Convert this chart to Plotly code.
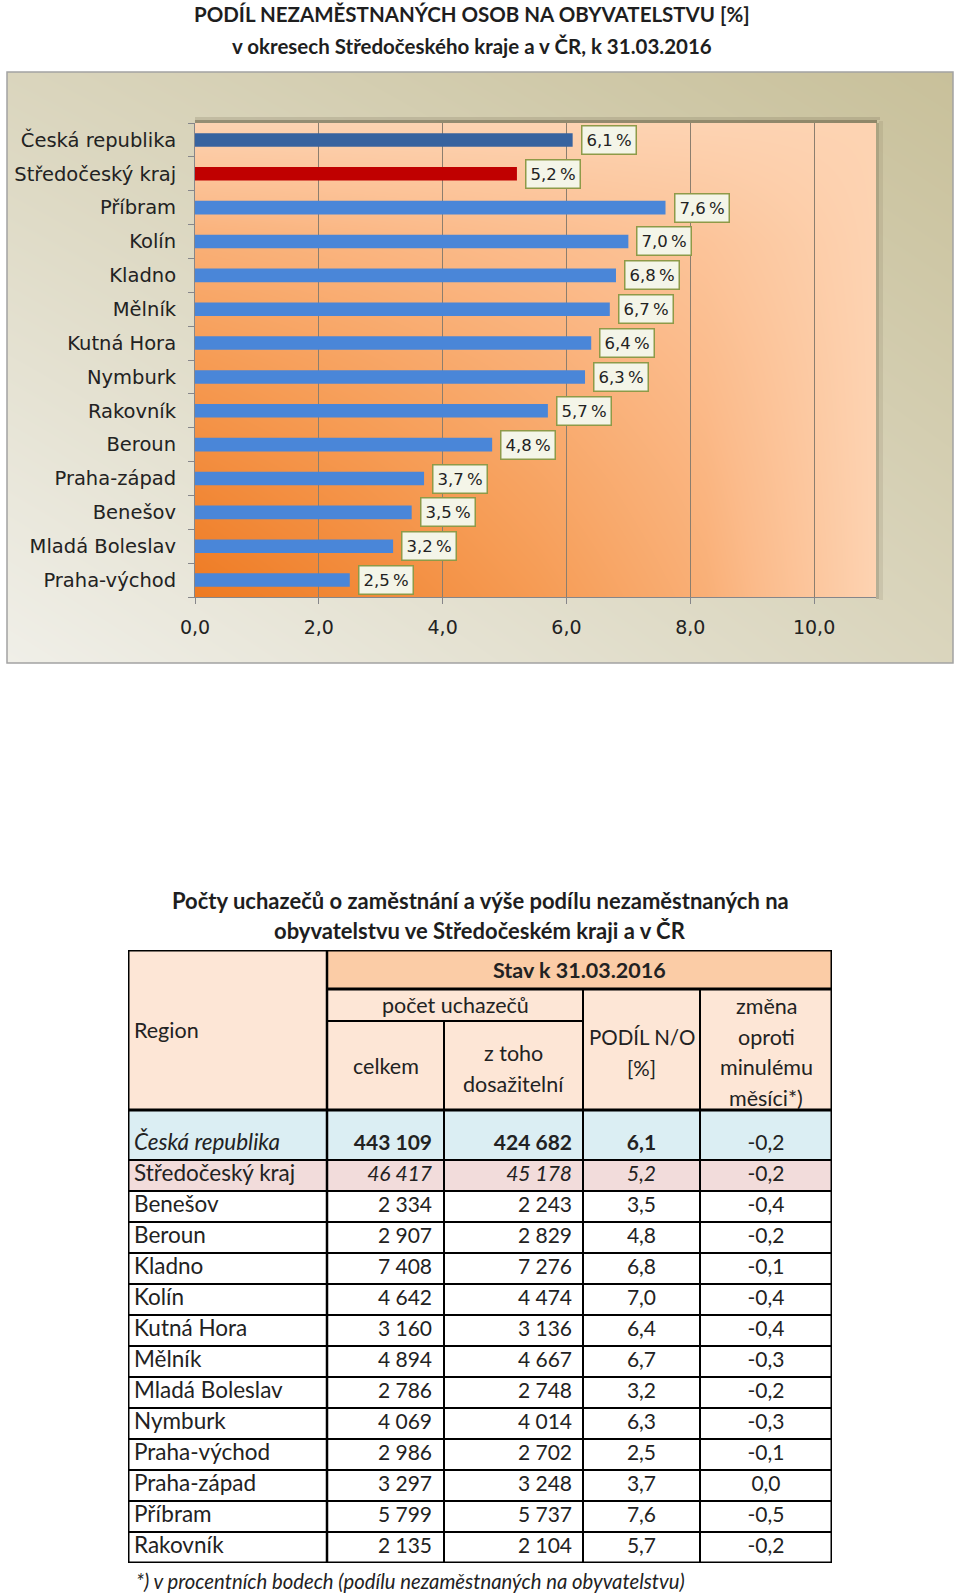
import plotly.graph_objects as go

W, H = 960, 1594

# ---------------- data ----------------
regions = ["Česká republika", "Středočeský kraj", "Benešov", "Beroun", "Kladno", "Kolín",
           "Kutná Hora", "Mělník", "Mladá Boleslav", "Nymburk", "Praha-východ",
           "Praha-západ", "Příbram", "Rakovník"]
celkem = [443109, 46417, 2334, 2907, 7408, 4642, 3160, 4894, 2786, 4069, 2986, 3297, 5799, 2135]
dosazitelni = [424682, 45178, 2243, 2829, 7276, 4474, 3136, 4667, 2748, 4014, 2702, 3248, 5737, 2104]
podil = [6.1, 5.2, 3.5, 4.8, 6.8, 7.0, 6.4, 6.7, 3.2, 6.3, 2.5, 3.7, 7.6, 5.7]
zmena = [-0.2, -0.2, -0.4, -0.2, -0.1, -0.4, -0.4, -0.3, -0.2, -0.3, -0.1, 0.0, -0.5, -0.2]
x_ticks = [0, 2, 4, 6, 8, 10]

chart_title = ["PODÍL NEZAMĚSTNANÝCH OSOB NA OBYVATELSTVU [%]",
               "v okresech Středočeského kraje a v ČR, k 31.03.2016"]
table_title = ["Počty uchazečů o zaměstnání a výše podílu nezaměstnaných na",
               "obyvatelstvu ve Středočeském kraji a v ČR"]
footnote = "*) v procentních bodech (podílu nezaměstnaných na obyvatelstvu)"

# chart order: ČR, kraj, then districts sorted by share (descending)
districts = sorted(range(2, len(regions)), key=lambda i: -podil[i])
chart_idx = [0, 1] + districts
chart_cats = [regions[i] for i in chart_idx]
chart_vals = [podil[i] for i in chart_idx]

# ---------------- helpers ----------------
def px(x):
    return x / W

def py(y):
    return 1 - y / H

def fdec(v):
    return f"{v:.1f}".replace(".", ",")

def fint(n):
    return f"{n:,}".replace(",", "\u00a0")

CHART_FONT = "DejaVu Sans, Verdana, sans-serif"
CAL_FONT = "Lato, Carlito, Calibri, sans-serif"
TXT = "#222222"
TFS = 21.5   # table header text size
RFS = 22.5   # region column size
NFS = 21     # table number size

# layout geometry (pixels)
OUTER = (7, 72, 953, 663)       # chart area
PLOT = (195, 123, 876, 597)      # plot area
TBL_X = [128, 327, 444, 583, 700, 832]
TBL_TOP, STAV_B, POCET_B, HEAD_B, FIRST_B, ROW_H = 950, 989, 1021, 1110, 1160, 31.0
TBL_BOT = FIRST_B + ROW_H * (len(regions) - 1)

fig = go.Figure()

# --- outer chart-area gradient (subplot 1)
fig.add_trace(go.Heatmap(
    x=[0, 1], y=[0, 1], z=[[0.0, 0.55], [0.55, 1.0]],
    colorscale=[[0, "#f0efe8"], [1, "#c8c09a"]], zsmooth="best",
    showscale=False, hoverinfo="skip", xaxis="x", yaxis="y"))

# --- plot-area orange gradient (subplot 2)
gx = [0, 0.25, 0.5, 0.75, 1.0]
gy = [0, 0.25, 0.5, 0.75, 1.0]
gz = [[((1 - a) * (1 - b)) ** 0.6 for a in gx] for b in gy]
fig.add_trace(go.Heatmap(
    x=gx, y=gy, z=gz,
    colorscale=[[0, "#fdd3b2"], [0.3, "#fbbb8b"], [0.65, "#f69c55"], [1, "#ee7a22"]],
    zsmooth="best", showscale=False, hoverinfo="skip", xaxis="x2", yaxis="y2"))

# --- bars (subplot 3)
bar_colors = ["#38639f", "#c00000"] + ["#4a86d8"] * (len(chart_vals) - 2)
fig.add_trace(go.Bar(
    x=chart_vals, y=list(range(len(chart_vals))), orientation="h", width=0.4,
    marker=dict(color=bar_colors, line=dict(width=0)),
    hoverinfo="skip", xaxis="x3", yaxis="y3"))

annotations = []
for i, v in enumerate(chart_vals):
    annotations.append(dict(
        x=v, y=i, xref="x3", yref="y3", text=fdec(v) + "\u2009%", showarrow=False,
        xanchor="left", yanchor="middle", xshift=8,
        bgcolor="#f4f5e8", bordercolor="#8e9a48", borderwidth=1.5, borderpad=4,
        font=dict(family=CHART_FONT, size=16.5, color=TXT)))

# chart titles
for k, t in enumerate(chart_title):
    annotations.append(dict(
        x=px(472), y=py(14 + 31.5 * k), xref="paper", yref="paper", text=f"<b>{t}</b>",
        showarrow=False, xanchor="center", yanchor="middle",
        font=dict(family=CAL_FONT, size=20.5, color="#1e1e1e")))

# --- table (subplot 4)
row_edges = [HEAD_B, FIRST_B] + [FIRST_B + ROW_H * k for k in range(1, len(regions))]
row_centers = [b - ROW_H / 2 for b in row_edges[1:]]

shapes = []
def rect(x0, y0, x1, y1, fill):
    shapes.append(dict(type="rect", xref="x4", yref="y4", x0=x0, y0=y0, x1=x1, y1=y1,
                       fillcolor=fill, line=dict(width=0), layer="below"))

def hline(y, x0, x1, w):
    shapes.append(dict(type="line", xref="x4", yref="y4", x0=x0, x1=x1, y0=y, y1=y,
                       line=dict(color="#000000", width=w), layer="below"))

def vline(x, y0, y1, w):
    shapes.append(dict(type="line", xref="x4", yref="y4", x0=x, x1=x, y0=y0, y1=y1,
                       line=dict(color="#000000", width=w), layer="below"))

rect(TBL_X[0], TBL_TOP, TBL_X[1], HEAD_B, "#fde6d6")
rect(TBL_X[1], TBL_TOP, TBL_X[5], STAV_B, "#fbcca6")
rect(TBL_X[1], STAV_B, TBL_X[5], HEAD_B, "#fde6d6")
row_fills = ["#dbeef3", "#f2dcdb"] + ["#ffffff"] * (len(regions) - 2)
for r, f in enumerate(row_fills):
    rect(TBL_X[0], row_edges[r], TBL_X[5], row_edges[r + 1], f)

for y in row_edges[1:-1]:
    hline(y, TBL_X[0], TBL_X[5], 2)
hline(STAV_B, TBL_X[1], TBL_X[5], 3)
hline(POCET_B, TBL_X[1], TBL_X[3], 2)
hline(HEAD_B, TBL_X[0], TBL_X[5], 3)
vline(TBL_X[1], TBL_TOP, TBL_BOT, 2.5)
vline(TBL_X[2], POCET_B, TBL_BOT, 2)
vline(TBL_X[3], STAV_B, TBL_BOT, 2)
vline(TBL_X[4], STAV_B, TBL_BOT, 2)
shapes.append(dict(type="rect", xref="x4", yref="y4", x0=TBL_X[0], x1=TBL_X[5],
                   y0=TBL_TOP, y1=TBL_BOT, line=dict(color="#000000", width=3),
                   layer="below"))

# header texts
def cell_text(t, x, y, anchor="center", bold=False, size=TFS):
    annotations.append(dict(x=x, y=y, xref="x4", yref="y4",
                            text=f"<b>{t}</b>" if bold else t, showarrow=False,
                            xanchor=anchor, yanchor="middle",
                            font=dict(family=CAL_FONT, size=size, color=TXT)))

cx = [(TBL_X[i] + TBL_X[i + 1]) / 2 for i in range(5)]
cell_text("Region", TBL_X[0] + 4, (TBL_TOP + HEAD_B) / 2, anchor="left")
cell_text("Stav k 31.03.2016", (TBL_X[1] + TBL_X[5]) / 2, (TBL_TOP + STAV_B) / 2, bold=True)
cell_text("počet uchazečů", (TBL_X[1] + TBL_X[3]) / 2, (STAV_B + POCET_B) / 2)
cell_text("celkem", cx[1], (POCET_B + HEAD_B) / 2)
for k, t in enumerate(["z toho", "dosažitelní"]):
    cell_text(t, cx[2], 1053 + 31 * k)
for k, t in enumerate(["PODÍL N/O", "[%]"]):
    cell_text(t, cx[3], 1037 + 31 * k, size=20.5)
for k, t in enumerate(["změna", "oproti", "minulému", "měsíci*)"]):
    cell_text(t, cx[4], 1006 + 30.7 * k)

# data cells
def styl(r, s, col):
    if r == 0:
        return f"<b>{s}</b>" if 0 < col < 4 else s
    if r == 1:
        return f"<i>{s}</i>" if 0 < col < 4 else s
    return s

reg_txt = [f"<i>{t}</i>" if r == 0 else t for r, t in enumerate(regions)]
col_specs = [
    (reg_txt, TBL_X[0] + 6, "middle right", RFS),
    ([styl(r, fint(v), 1) for r, v in enumerate(celkem)], TBL_X[2] - 12, "middle left", NFS),
    ([styl(r, fint(v), 2) for r, v in enumerate(dosazitelni)], TBL_X[3] - 11, "middle left", NFS),
    ([styl(r, fdec(v), 3) for r, v in enumerate(podil)], cx[3], "middle center", NFS),
    ([fdec(v) for v in zmena], cx[4], "middle center", NFS),
]
for texts, x, pos, fs in col_specs:
    fig.add_trace(go.Scatter(
        x=[x] * len(texts), y=row_centers, mode="text", text=texts, textposition=pos,
        textfont=dict(family=CAL_FONT, size=fs, color=TXT), hoverinfo="skip",
        xaxis="x4", yaxis="y4"))

for k, t in enumerate(table_title):
    annotations.append(dict(
        x=px(480), y=py(900 + 30.5 * k), xref="paper", yref="paper", text=f"<b>{t}</b>",
        showarrow=False, xanchor="center", yanchor="middle",
        font=dict(family=CAL_FONT, size=22, color="#1e1e1e")))

annotations.append(dict(
    x=px(134), y=py(1581), xref="paper", yref="paper", text=f"<i>{footnote}</i>",
    showarrow=False, xanchor="left", yanchor="middle",
    font=dict(family=CAL_FONT, size=20.3, color=TXT)))

# chart frame & plot shadow (paper shapes)
shapes.append(dict(type="rect", xref="paper", yref="paper",
                   x0=px(PLOT[0]), x1=px(PLOT[2] + 1), y0=py(PLOT[1] - 3), y1=py(PLOT[1]),
                   fillcolor="rgba(95,85,60,0.55)", line=dict(width=0), layer="above"))
shapes.append(dict(type="rect", xref="paper", yref="paper",
                   x0=px(PLOT[0]), x1=px(PLOT[2] + 4), y0=py(PLOT[1] - 6), y1=py(PLOT[1] - 3),
                   fillcolor="rgba(95,85,60,0.18)", line=dict(width=0), layer="above"))
shapes.append(dict(type="rect", xref="paper", yref="paper",
                   x0=px(PLOT[2]), x1=px(PLOT[2] + 3), y0=py(PLOT[3] + 2), y1=py(PLOT[1]),
                   fillcolor="rgba(95,85,60,0.3)", line=dict(width=0), layer="above"))
shapes.append(dict(type="rect", xref="paper", yref="paper",
                   x0=px(PLOT[2] + 3), x1=px(PLOT[2] + 7), y0=py(PLOT[3] + 3), y1=py(PLOT[1] - 2),
                   fillcolor="rgba(95,85,60,0.12)", line=dict(width=0), layer="above"))
shapes.append(dict(type="rect", xref="paper", yref="paper",
                   x0=px(OUTER[0]), x1=px(OUTER[2]), y0=py(OUTER[3]), y1=py(OUTER[1]),
                   line=dict(color="#a3a3a3", width=1.5), layer="above"))

hidden = dict(visible=False, showgrid=False, zeroline=False, fixedrange=True, automargin=False)
n = len(chart_vals)
fig.update_layout(
    template="none",
    width=W, height=H, margin=dict(l=0, r=0, t=0, b=0, pad=0, autoexpand=False),
    paper_bgcolor="#ffffff", plot_bgcolor="rgba(0,0,0,0)",
    showlegend=False, separators=",\u00a0",
    xaxis=dict(hidden, domain=[px(OUTER[0]), px(OUTER[2])], range=[0, 1]),
    yaxis=dict(hidden, domain=[py(OUTER[3]), py(OUTER[1])], range=[0, 1]),
    xaxis2=dict(hidden, domain=[px(PLOT[0]), px(PLOT[2])], range=[0, 1]),
    yaxis2=dict(hidden, domain=[py(PLOT[3]), py(PLOT[1])], range=[0, 1]),
    xaxis3=dict(domain=[px(PLOT[0]), px(PLOT[2])], range=[0, 11], anchor="y3",
                tickmode="array", tickvals=x_ticks, ticktext=[fdec(v) for v in x_ticks],
                showgrid=True, gridcolor="#8c7e6e", gridwidth=1, zeroline=False,
                showline=True, linecolor="#86868a", linewidth=1, automargin=False,
                ticks="outside", ticklen=6, tickcolor="#86868a", ticklabelstandoff=7,
                tickfont=dict(family=CHART_FONT, size=19, color=TXT), fixedrange=True),
    yaxis3=dict(domain=[py(PLOT[3]), py(PLOT[1])], range=[n - 0.5, -0.5], anchor="x3",
                tickmode="array", tickvals=list(range(n)), ticktext=chart_cats,
                ticks="", showgrid=False, zeroline=False, automargin=False,
                showline=True, linecolor="#86868a", linewidth=1,
                minor=dict(tickmode="array", tickvals=[k - 0.5 for k in range(n + 1)],
                           ticks="outside", ticklen=6, tickcolor="#86868a", showgrid=False),
                ticklabelstandoff=14,
                tickfont=dict(family=CHART_FONT, size=19.5, color=TXT), fixedrange=True),
    xaxis4=dict(hidden, domain=[px(TBL_X[0]), px(TBL_X[5])], range=[TBL_X[0], TBL_X[5]],
                anchor="y4"),
    yaxis4=dict(hidden, domain=[py(TBL_BOT), py(TBL_TOP)], range=[TBL_BOT, TBL_TOP],
                anchor="x4"),
    shapes=shapes, annotations=annotations,
)

fig.write_html(
    "out.html",
    config={"displayModeBar": False, "staticPlot": True},
    post_script="document.body.style.margin='0';document.body.style.overflow='hidden';",
)
